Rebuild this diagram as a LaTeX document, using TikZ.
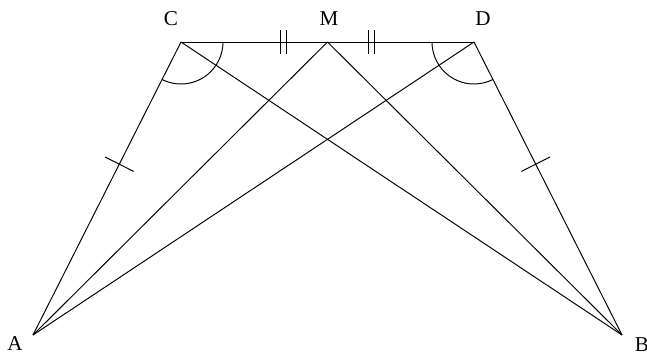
\documentclass[tikz,border=0pt]{standalone}
\usepackage{fontspec}
\setmainfont{Liberation Serif}
\usetikzlibrary{calc,angles}
\tikzset{
  seg/.style={draw=black,line width=0.55pt},
  lbl/.style={font=\fontsize{12}{14}\selectfont,inner sep=0pt},
  tickmark/.style={draw=black,line width=0.55pt},
  arcmark/.style={draw=black,line width=0.55pt,angle radius=0.84cm},
}
\begin{document}
\begin{tikzpicture}
  \useasboundingbox (0,0) rectangle (12.94,7.10);
  \coordinate (A) at (0.66,0.40);
  \coordinate (B) at (12.44,0.40);
  \coordinate (C) at (3.62,6.26);
  \coordinate (D) at (9.48,6.26);
  \coordinate (M) at ($(C)!0.5!(D)$);
  \node[lbl] (lA) at (0.30,0.23) {A};
  \node[lbl] (lB) at (12.84,0.21) {B};
  \node[lbl] (lC) at (3.42,6.72) {C};
  \node[lbl] (lM) at (6.58,6.72) {M};
  \node[lbl] (lD) at (9.66,6.72) {D};
  \foreach \p/\q in {C/A,D/B,C/D,C/B,D/A,M/A,M/B}
    \draw[seg] (\p) -- (\q);
  % equal marks
  \path (C) -- (A) coordinate[pos=0.417] (tCA);
  \path (D) -- (B) coordinate[pos=0.417] (tDB);
  \foreach \t/\e in {tCA/A,tDB/B}
    \draw[tickmark] ($(\t)!0.32cm!90:(\e)$) -- ($(\t)!0.32cm!-90:(\e)$);
  \path (C) -- (M) coordinate[pos=0.70] (tCM);
  \path (D) -- (M) coordinate[pos=0.70] (tDM);
  \foreach \t in {tCM,tDM}
    \foreach \dx in {-0.06,0.06}
      \draw[tickmark] ($(\t)+(\dx,0.24)$) -- ($(\t)+(\dx,-0.24)$);
  \pic[arcmark] {angle=A--C--D};
  \pic[arcmark] {angle=C--D--B};
\end{tikzpicture}
\end{document}
